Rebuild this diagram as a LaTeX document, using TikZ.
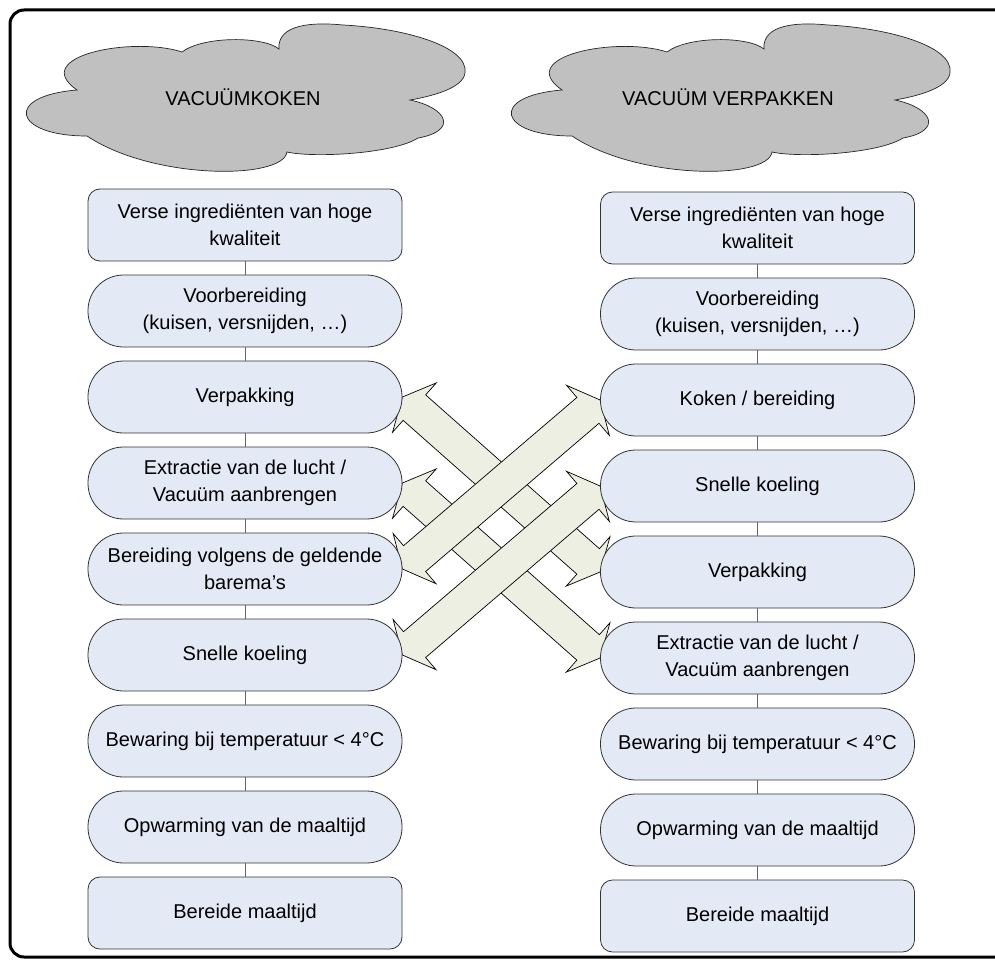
\documentclass[tikz,border=0pt]{standalone}
\usepackage{fontspec}
\setmainfont{Liberation Sans}
\usetikzlibrary{calc,backgrounds}
\definecolor{boxblue}{RGB}{227,234,246}
\definecolor{cloudgray}{RGB}{192,192,192}
\definecolor{swapbeige}{RGB}{237,239,227}
\newcommand{\swaparrow}[2]{%
  \draw[swap] (#1) -- ($(#1)!16pt!(#2)!33pt!90:(#2)$) -- ($(#1)!16pt!(#2)!17pt!90:(#2)$)
    -- ($(#2)!16pt!(#1)!17pt!-90:(#1)$) -- ($(#2)!16pt!(#1)!33pt!-90:(#1)$) -- (#2)
    -- ($(#2)!16pt!(#1)!33pt!90:(#1)$) -- ($(#2)!16pt!(#1)!17pt!90:(#1)$)
    -- ($(#1)!16pt!(#2)!17pt!-90:(#2)$) -- ($(#1)!16pt!(#2)!33pt!-90:(#2)$) -- cycle;}
\tikzset{wolk/.pic={
  \draw[fill=cloudgray, draw=black!85, line width=0.7pt]
    (-166,6) .. controls (-215,40) and (-110,60) .. (-61,44)
    .. controls (-40,60) and (20,60) .. (36,47)
    .. controls (34,72) and (70,74) .. (100,71)
    .. controls (160,68) and (226,50) .. (222,23)
    .. controls (220,8) and (190,0) .. (167,-4)
    .. controls (205,-12) and (215,-35) .. (175,-42)
    .. controls (150,-58) and (70,-62) .. (44,-56)
    .. controls (40,-84) and (-90,-84) .. (-156,-40)
    .. controls (-230,-40) and (-240,0) .. (-166,6) -- cycle;}}
\begin{document}
\begin{tikzpicture}[x=1pt,y=1pt,
    tekst/.style={font=\fontsize{20}{27.5}\selectfont, align=center},
    stap/.style={tekst, draw=black!80, fill=boxblue, line width=0.8pt, minimum width=314pt,
      minimum height=72pt, inner sep=0pt, rounded corners=35.5pt},
    hoek/.style={stap, rounded corners=12pt},
    link/.style={draw=black!60, line width=0.8pt},
    swap/.style={fill=swapbeige, draw=black, line width=0.7pt, line join=miter}]
  \useasboundingbox (0,0) rectangle (995,-963);
  \draw[line width=3pt, rounded corners=14pt] (1000,-10) -- (10,-10) -- (10,-957) -- (1000,-957);

  \pic at (243,-96) {wolk};
  \node[tekst] (kop1) at (243,-97) {VACUÜMKOKEN};
  \pic at (728,-96) {wolk};
  \node[tekst] (kop2) at (728,-97) {VACUÜM VERPAKKEN};

  % vacuumkoken
  \node[hoek] (l1) at (245,-225) {Verse ingrediënten van hoge\\kwaliteit};
  \node[stap] (l2) at (245,-311) {Voorbereiding\\(kuisen, versnijden, …)};
  \node[stap] (l3) at (245,-397) {Verpakking};
  \node[stap] (l4) at (245,-483) {Extractie van de lucht /\\Vacuüm aanbrengen};
  \node[stap] (l5) at (245,-569) {Bereiding volgens de geldende\\barema’s};
  \node[stap] (l6) at (245,-655) {Snelle koeling};
  \node[stap] (l7) at (245,-741) {Bewaring bij temperatuur < 4°C};
  \node[stap] (l8) at (245,-827) {Opwarming van de maaltijd};
  \node[hoek] (l9) at (245,-913) {Bereide maaltijd};

  % vacuum verpakken
  \node[hoek] (r1) at (757.5,-228) {Verse ingrediënten van hoge\\kwaliteit};
  \node[stap] (r2) at (757.5,-314) {Voorbereiding\\(kuisen, versnijden, …)};
  \node[stap] (r3) at (757.5,-400) {Koken / bereiding};
  \node[stap] (r4) at (757.5,-486) {Snelle koeling};
  \node[stap] (r5) at (757.5,-572) {Verpakking};
  \node[stap] (r6) at (757.5,-658) {Extractie van de lucht /\\Vacuüm aanbrengen};
  \node[stap] (r7) at (757.5,-744) {Bewaring bij temperatuur < 4°C};
  \node[stap] (r8) at (757.5,-830) {Opwarming van de maaltijd};
  \node[hoek] (r9) at (757.5,-916) {Bereide maaltijd};

  \foreach \a/\b in {1/2,2/3,3/4,4/5,5/6,6/7,7/8,8/9}{
    \draw[link] (l\a) -- (l\b);
    \draw[link] (r\a) -- (r\b);
  }

  \begin{scope}[on background layer]
    \swaparrow{l3.east}{r5.west}
    \swaparrow{l4.east}{r6.west}
    \swaparrow{l5.east}{r3.west}
    \swaparrow{l6.east}{r4.west}
  \end{scope}
\end{tikzpicture}
\end{document}
